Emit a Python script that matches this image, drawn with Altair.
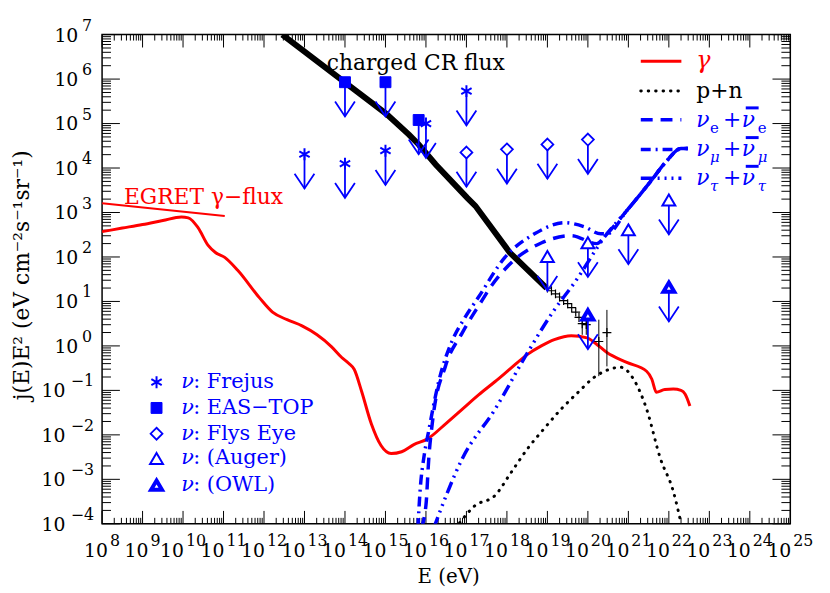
import altair as alt
import pandas as pd

FONT = "DejaVu Serif"
BLUE = "#0000ff"
RED = "#ff0000"
W, H = 695, 494

# ---------------- data (log10 E [eV] , log10 j(E)E^2) ----------------
cr_logE = [12.45, 13.99, 15.02, 15.58, 15.82, 16.24, 17.02, 17.22, 18.07, 18.98]
cr_logJ = [7.0, 5.93, 5.22, 4.75, 4.53, 4.08, 3.33, 3.15, 2.10, 1.30]

crpts_logE = [19.0, 19.1, 19.2, 19.3, 19.4, 19.5, 19.6, 19.7, 19.78, 19.86, 19.96, 20.27, 20.47]
crpts_logJ = [1.30, 1.24, 1.17, 1.10, 1.02, 0.95, 0.86, 0.76, 0.64, 0.50, 0.48, 0.10, 0.30]
crerr_logE = [19.86, 19.96, 20.27, 20.47]
crerr_lo = [0.25, 0.25, -0.68, -0.46]
crerr_hi = [0.56, 0.58, 0.59, 0.81]

gam_logE = [8.0, 8.5, 9.0, 9.5, 9.96, 10.13, 10.37, 10.62, 10.8, 11.03, 11.35, 11.89, 12.21,
            12.57, 12.94, 13.31, 13.67, 13.92, 14.09, 14.23, 14.41, 14.65, 14.89, 15.14, 15.4,
            15.7, 16.04, 16.5, 16.9, 17.3, 17.71, 18.1, 18.51, 18.85, 19.17, 19.59, 19.98,
            20.2, 20.47, 20.96, 21.45, 21.58, 21.69, 21.9, 22.11, 22.3, 22.4, 22.52]
gam_logJ = [2.57, 2.65, 2.73, 2.82, 2.90, 2.88, 2.66, 2.26, 2.10, 1.99, 1.70, 1.08, 0.76,
            0.59, 0.45, 0.25, -0.02, -0.26, -0.39, -0.53, -1.02, -1.75, -2.24, -2.42, -2.38,
            -2.22, -2.09, -1.74, -1.42, -1.10, -0.80, -0.50, -0.19, 0.0, 0.14, 0.23, 0.18,
            0.05, -0.15, -0.37, -0.57, -0.75, -1.04, -0.98, -0.97, -1.0, -1.08, -1.35]

egret_logE = [8.0, 11.03]
egret_logJ = [3.21, 2.92]

pn_logE = [16.83, 17.2, 17.71, 18.1, 18.51, 18.9, 19.34, 19.75, 20.15, 20.52, 20.81, 21.13,
           21.45, 21.79, 22.11, 22.3]
pn_logJ = [-3.98, -3.6, -3.36, -2.85, -2.31, -1.88, -1.42, -1.05, -0.71, -0.53, -0.48, -0.75,
           -1.42, -2.53, -3.27, -3.98]

nue_logE = [15.88, 16.0, 16.07, 16.17, 16.48, 16.9, 17.39, 17.54, 18.12, 18.86, 19.59, 20.22,
            20.47, 20.96, 21.55, 21.94, 22.3, 22.47]
nue_logJ = [-4.1, -3.58, -2.53, -1.64, -0.46, 0.30, 1.03, 1.25, 1.88, 2.32, 2.48, 2.30,
            2.52, 3.04, 3.70, 4.15, 4.44, 4.44]

numu_logE = [15.80, 15.86, 15.95, 16.07, 16.31, 16.66, 16.95, 17.3, 17.95, 18.68, 19.42, 19.91,
             20.32, 20.47, 20.96, 21.55, 21.94, 22.3, 22.47]
numu_logJ = [-4.1, -3.2, -2.5, -1.9, -0.82, 0.14, 0.62, 1.1, 1.99, 2.52, 2.77, 2.68,
             2.52, 2.52, 3.04, 3.70, 4.15, 4.44, 4.44]

nutau_logE = [16.19, 16.9, 17.71, 18.51, 19.17, 19.66, 20.47, 20.96, 21.55, 21.94, 22.3, 22.47]
nutau_logJ = [-4.1, -2.53, -1.42, -0.15, 0.81, 1.41, 2.52, 3.04, 3.70, 4.15, 4.44, 4.44]

frejus_logE = [13.0, 14.0, 15.0, 16.0, 17.0]
frejus_logJ = [4.31, 4.10, 4.39, 5.00, 5.73]
eastop_logE = [14.0, 15.0, 15.82]
eastop_logJ = [5.93, 5.93, 5.08]
flys_logE = [17.0, 18.0, 19.0, 20.0]
flys_logJ = [4.35, 4.42, 4.53, 4.64]
auger_logE = [19.0, 20.0, 21.0, 22.0]
auger_logJ = [2.01, 2.32, 2.61, 3.28]
owl_logE = [20.0, 22.0]
owl_logJ = [0.70, 1.32]
ARROW_DEC = 0.77  # arrow length in decades

x_major_exp = list(range(8, 26))
y_major_exp = list(range(-4, 8))

# ---------------- helpers ----------------
xs = alt.Scale(type="log", domain=[1e8, 1e25], nice=False)
ys = alt.Scale(type="log", domain=[1e-4, 1e7], nice=False)
DUMMY = alt.Data(values=[{"a": 1}])


def df_xy(le, lj):
    return pd.DataFrame({"E": [10 ** v for v in le], "J": [10 ** v for v in lj]})


def X(f="E"):
    return alt.X(f"{f}:Q", scale=xs, axis=None)


def Y(f="J"):
    return alt.Y(f"{f}:Q", scale=ys, axis=None)


def curve(le, lj, color, width, dash=None, interp="monotone", cap="butt"):
    kw = dict(color=color, strokeWidth=width, interpolate=interp, clip=True, strokeCap=cap)
    if dash:
        kw["strokeDash"] = dash
    return alt.Chart(df_xy(le, lj)).mark_line(**kw).encode(x=X(), y=Y())


def txt(px, py, s, size=20, color="black", style="normal", align="left",
        baseline="middle", angle=0):
    return alt.Chart(DUMMY).mark_text(
        align=align, baseline=baseline, fontSize=size, font=FONT, fontStyle=style,
        color=color, angle=angle
    ).encode(x=alt.value(px), y=alt.value(py), text=alt.value(s))


def hrule(x1, x2, py, color, width, dash=None, cap="butt"):
    kw = dict(color=color, strokeWidth=width, strokeCap=cap)
    if dash:
        kw["strokeDash"] = dash
    return alt.Chart(DUMMY).mark_rule(**kw).encode(
        x=alt.value(x1), x2=alt.value(x2), y=alt.value(py))


ARROWHEAD = "M-0.667,-1L0,0L0.667,-1"
ASTER = "M0,-1L0,1M-0.87,-0.5L0.87,0.5M-0.87,0.5L0.87,-0.5"
DIAMOND = "M0,-1L1,0L0,1L-1,0Z"
TRI = "M0,-0.85L1,0.85L-1,0.85Z"
CROSS = "M-1,0L1,0M0,-1L0,1"

MARKERS = {
    "frejus": dict(shape=ASTER, size=144, filled=False, fill=None, sw=2),
    "eastop": dict(shape="square", size=121, filled=True, fill=BLUE, sw=1),
    "flys": dict(shape=DIAMOND, size=144, filled=False, fill="white", sw=1.8),
    "auger": dict(shape=TRI, size=169, filled=False, fill="white", sw=2),
    "owl": dict(shape=TRI, size=121, filled=False, fill="white", sw=4),
}


def point_mark(key):
    m = MARKERS[key]
    kw = dict(shape=m["shape"], size=m["size"], strokeWidth=m["sw"], stroke=BLUE, opacity=1)
    if m["filled"]:
        kw.update(filled=True, fill=BLUE)
    else:
        kw.update(filled=False)
        if m["fill"]:
            kw.update(fill=m["fill"], fillOpacity=1)
    return kw


def limits(le, lj, key):
    d = df_xy(le, lj)
    d["Jt"] = d["J"] * 10 ** (-ARROW_DEC)
    shaft = alt.Chart(d).mark_rule(color=BLUE, strokeWidth=1.8).encode(
        x=X(), y=Y(), y2="Jt:Q")
    head = alt.Chart(d).mark_point(shape=ARROWHEAD, size=900, filled=False, stroke=BLUE,
                                   strokeWidth=1.8, opacity=1).encode(x=X(), y=Y("Jt"))
    mk = alt.Chart(d).mark_point(**point_mark(key)).encode(x=X(), y=Y())
    return [shaft, head, mk]


layers = []

# ---------------- ticks ----------------
xmaj = pd.DataFrame({"v": [10.0 ** n for n in x_major_exp]})
xmin = pd.DataFrame({"v": [k * 10.0 ** n for n in x_major_exp[:-1] for k in range(2, 10)]})
ymaj = pd.DataFrame({"v": [10.0 ** n for n in y_major_exp]})
ymin = pd.DataFrame({"v": [k * 10.0 ** n for n in y_major_exp[:-1] for k in range(2, 10)]})

for d, L in ((xmaj, 13), (xmin, 6)):
    layers.append(alt.Chart(d).mark_rule(color="black", strokeWidth=1).encode(
        x=X("v"), y=alt.value(H), y2=alt.value(H - L)))
    layers.append(alt.Chart(d).mark_rule(color="black", strokeWidth=1).encode(
        x=X("v"), y=alt.value(0), y2=alt.value(L)))
for d, L in ((ymaj, 18), (ymin, 9)):
    layers.append(alt.Chart(d).mark_rule(color="black", strokeWidth=1).encode(
        y=Y("v"), x=alt.value(0), x2=alt.value(L)))
    layers.append(alt.Chart(d).mark_rule(color="black", strokeWidth=1).encode(
        y=Y("v"), x=alt.value(W), x2=alt.value(W - L)))

# ---------------- tick labels ----------------
def sup(n):
    return str(n).replace("-", "\u2212")

xl1 = pd.DataFrame({"v": [10.0 ** n for n in x_major_exp if n < 10],
                    "e": [sup(n) for n in x_major_exp if n < 10], "t": "10"})
xl2 = pd.DataFrame({"v": [10.0 ** n for n in x_major_exp if n >= 10],
                    "e": [sup(n) for n in x_major_exp if n >= 10], "t": "10"})
for d, a in ((xl1, 6), (xl2, 1)):
    layers.append(alt.Chart(d).mark_text(align="right", baseline="alphabetic", dx=a,
                                         fontSize=19, font=FONT, color="black").encode(
        x=X("v"), y=alt.value(H + 34), text="t:N"))
    layers.append(alt.Chart(d).mark_text(align="left", baseline="alphabetic", dx=a + 2,
                                         fontSize=16, font=FONT, color="black").encode(
        x=X("v"), y=alt.value(H + 22), text="e:N"))

yl1 = pd.DataFrame({"v": [10.0 ** n for n in y_major_exp if n >= 0],
                    "e": [sup(n) for n in y_major_exp if n >= 0], "t": "10"})
yl2 = pd.DataFrame({"v": [10.0 ** n for n in y_major_exp if n < 0],
                    "e": [sup(n) for n in y_major_exp if n < 0], "t": "10"})
for d, de, dt in ((yl1, -10, -24), (yl2, -8, -37)):
    layers.append(alt.Chart(d).mark_text(align="right", baseline="alphabetic", dx=dt, dy=7,
                                         fontSize=19, font=FONT, color="black").encode(
        y=Y("v"), x=alt.value(0), text="t:N"))
    layers.append(alt.Chart(d).mark_text(align="right", baseline="alphabetic", dx=de, dy=-4,
                                         fontSize=16, font=FONT, color="black").encode(
        y=Y("v"), x=alt.value(0), text="e:N"))

# ---------------- curves ----------------
layers.append(curve(egret_logE, egret_logJ, RED, 2, interp="linear"))
layers.append(curve(gam_logE, gam_logJ, RED, 3))
layers.append(curve(pn_logE, pn_logJ, "black", 3, dash=[0.5, 7], cap="round"))
layers.append(curve(cr_logE, cr_logJ, "black", 6, interp="linear"))

crp = df_xy(crpts_logE, crpts_logJ)
layers.append(alt.Chart(crp).mark_point(shape=CROSS, size=81, filled=False, stroke="black",
                                        strokeWidth=1.2, opacity=1).encode(x=X(), y=Y()))
cre = pd.DataFrame({"E": [10 ** v for v in crerr_logE], "lo": [10 ** v for v in crerr_lo],
                    "hi": [10 ** v for v in crerr_hi]})
layers.append(alt.Chart(cre).mark_rule(color="black", strokeWidth=1).encode(
    x=X(), y=Y("lo"), y2="hi:Q"))

layers.append(curve(nue_logE, nue_logJ, BLUE, 3.5, dash=[12, 8]))
layers.append(curve(numu_logE, numu_logJ, BLUE, 3.5, dash=[10, 5, 2, 5]))
layers.append(curve(nutau_logE, nutau_logJ, BLUE, 3.5, dash=[12, 5, 2, 5, 2, 5, 2, 5]))

# ---------------- upper limits ----------------
layers += limits(frejus_logE, frejus_logJ, "frejus")
layers += limits(eastop_logE, eastop_logJ, "eastop")
layers += limits(flys_logE, flys_logJ, "flys")
layers += limits(auger_logE, auger_logJ, "auger")
layers += limits(owl_logE, owl_logJ, "owl")

# ---------------- annotations ----------------
ann = pd.DataFrame({"E": [10 ** 13.55, 10 ** 8.54], "J": [10 ** 6.2, 10 ** 3.19],
                    "t": ["charged CR flux", "EGRET \u03b3\u2212flux"]})
layers.append(alt.Chart(ann.iloc[[0]]).mark_text(align="left", baseline="alphabetic",
                                                 fontSize=22, font=FONT, color="black").encode(
    x=X(), y=Y(), text="t:N"))
layers.append(alt.Chart(ann.iloc[[1]]).mark_text(align="left", baseline="alphabetic",
                                                 fontSize=22, font=FONT, color=RED).encode(
    x=X(), y=Y(), text="t:N"))

# axis titles
layers.append(txt(350, H + 60, "E (eV)", size=20, align="center", baseline="alphabetic"))
layers.append(txt(-81, H / 2 - 4, "j(E)E\u00b2 (eV cm\u207b\u00b2s\u207b\u00b9sr\u207b\u00b9)",
                  size=22, align="center", baseline="middle", angle=270))

# ---------------- legend (top right) ----------------
LX1, LX2, TX = 544, 585, 600
rows = [27, 57, 86, 116, 145]
layers.append(hrule(LX1, LX2, rows[0], RED, 3))
layers.append(txt(TX, rows[0], "\u03b3", size=24, color=RED, style="italic"))
layers.append(hrule(LX1, LX2, rows[1], "black", 3, dash=[0.5, 7], cap="round"))
layers.append(txt(TX, rows[1], "p+n", size=22))
nu_styles = [([12, 8], "e", "normal"), ([10, 5, 2, 5], "\u03bc", "italic"),
             ([12, 5, 2, 5, 2, 5, 2, 5], "\u03c4", "italic")]
for (dash, sub, sst), yc in zip(nu_styles, rows[2:]):
    layers.append(hrule(LX1, LX2, yc, BLUE, 3.5, dash=dash))
    layers.append(txt(TX, yc, "\u03bd", size=22, color=BLUE, style="italic"))
    layers.append(txt(TX + 14, yc + 8, sub, size=15, color=BLUE, style=sst))
    layers.append(txt(TX + 27, yc, "+", size=22, color=BLUE))
    layers.append(txt(TX + 46, yc, "\u03bd", size=22, color=BLUE, style="italic"))
    layers.append(hrule(TX + 50, TX + 63, yc - 12, BLUE, 3))
    layers.append(txt(TX + 62, yc + 8, sub, size=15, color=BLUE, style=sst))

# ---------------- legend (bottom left) ----------------
leg_names = [": Frejus", ": EAS\u2212TOP", ": Flys Eye", ": (Auger)", ": (OWL)"]
leg_keys = ["frejus", "eastop", "flys", "auger", "owl"]
leg_rows = [351, 377, 403, 428, 455]
for name, key, yc in zip(leg_names, leg_keys, leg_rows):
    layers.append(alt.Chart(DUMMY).mark_point(**point_mark(key)).encode(
        x=alt.value(55), y=alt.value(yc)))
    layers.append(txt(80, yc, "\u03bd", size=21, color=BLUE, style="italic"))
    layers.append(txt(92, yc, name, size=21, color=BLUE))

chart = alt.layer(*layers).properties(
    width=W, height=H,
    autosize=alt.AutoSizeParams(type="none"),
    padding={"left": 95, "top": 24, "right": 32, "bottom": 67},
    background="white",
).configure_view(stroke="black", strokeWidth=1.5)

chart.save("out.html", embed_options={"renderer": "svg", "actions": False})
